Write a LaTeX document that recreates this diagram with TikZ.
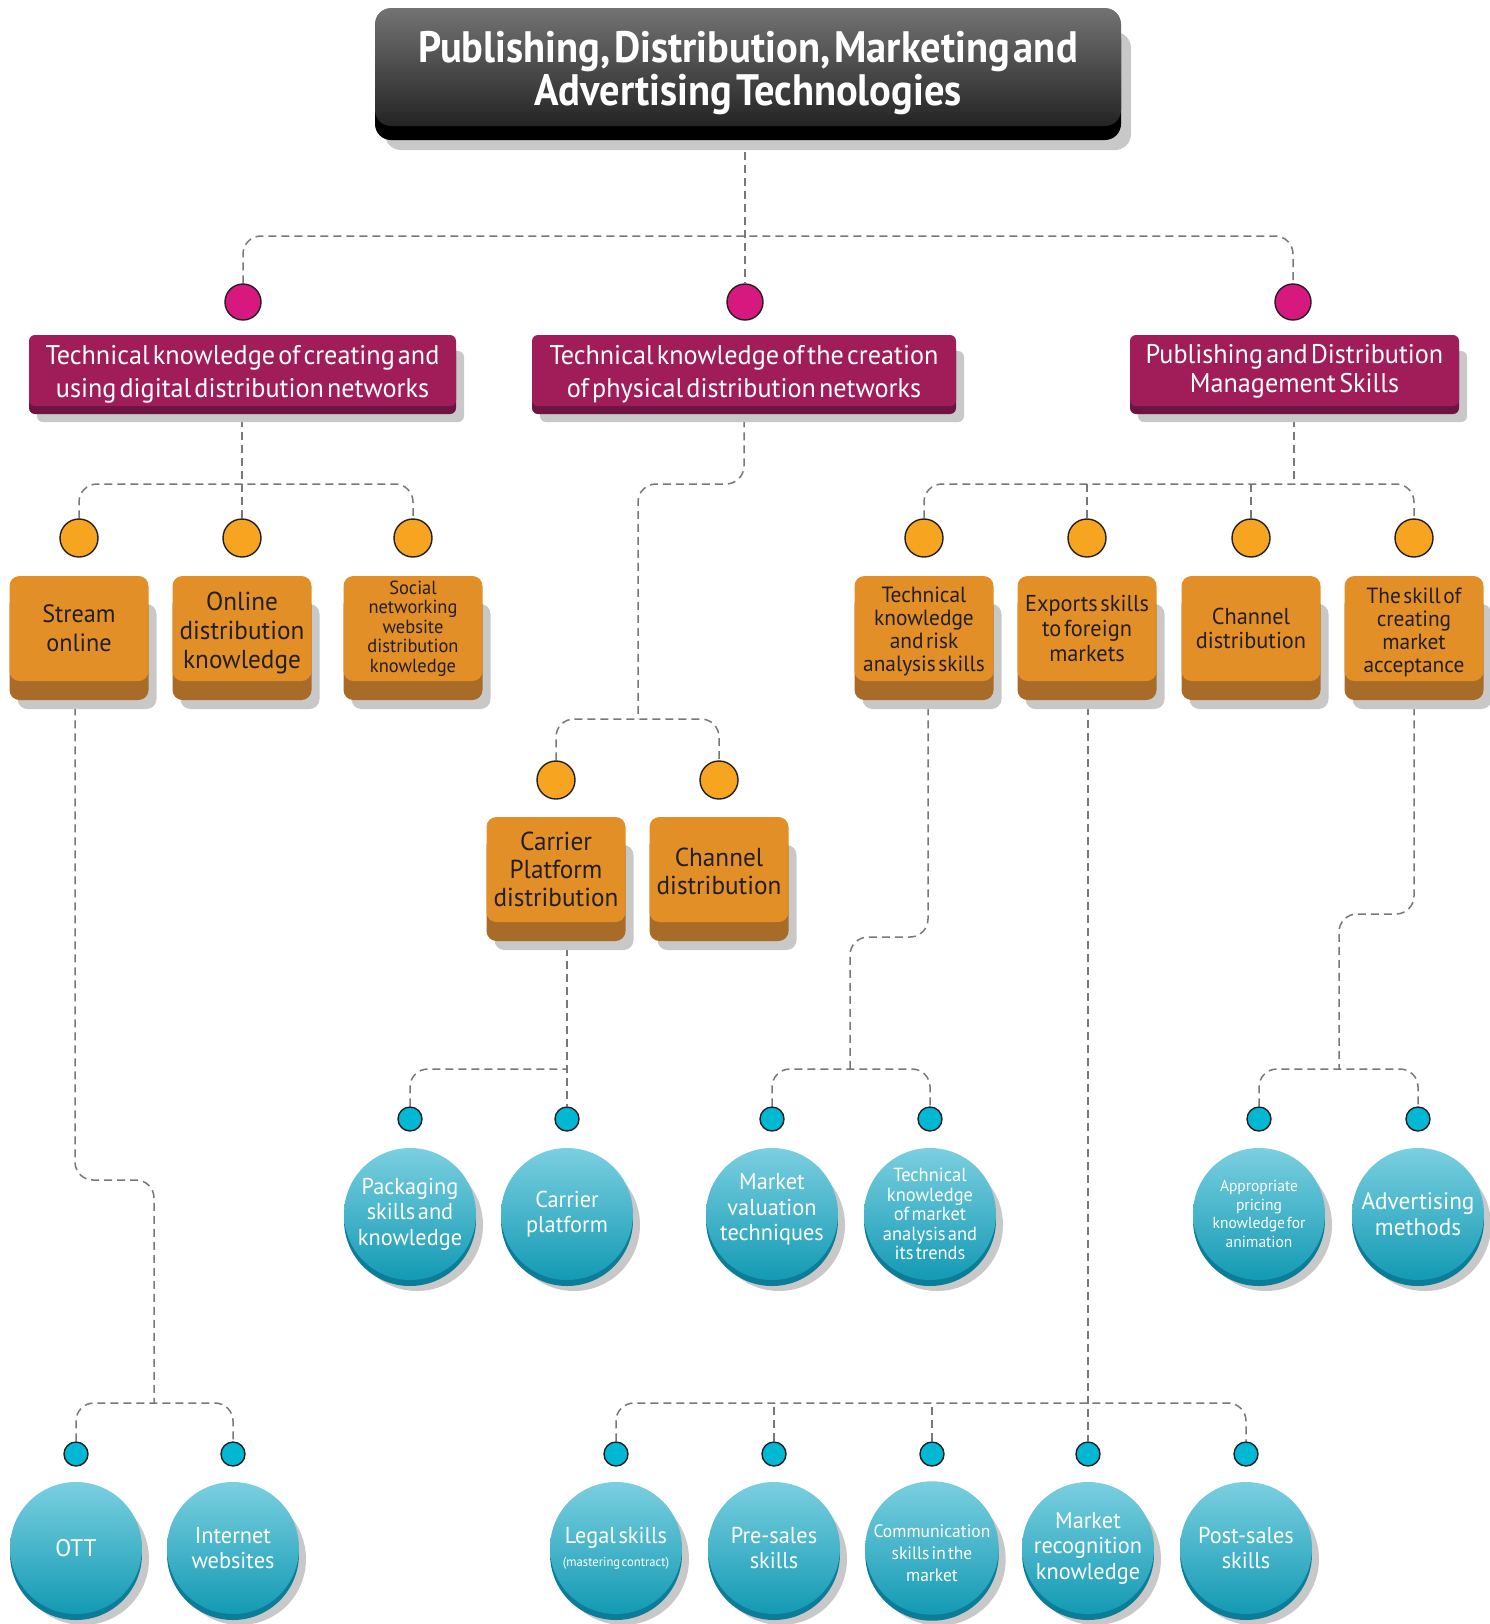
\documentclass[tikz,border=0pt]{standalone}
\usepackage{fontspec}
\setmainfont[FakeStretch=0.97,WordSpace=0.45]{PT Sans}
\newfontfamily\titlefont[FakeStretch=0.92,WordSpace=0.4]{PT Sans}
\usetikzlibrary{shadows,calc,backgrounds}
\definecolor{magface}{HTML}{A01D5A}
\definecolor{maglip}{HTML}{6D1442}
\definecolor{magdot}{HTML}{D7197F}
\definecolor{orface}{HTML}{E38F28}
\definecolor{orlip}{HTML}{A86B28}
\definecolor{ordot}{HTML}{F7A521}
\definecolor{cydot}{HTML}{00B8D4}
\definecolor{cytop}{HTML}{7BCFE0}
\definecolor{cybot}{HTML}{139AB4}
\definecolor{cylip}{HTML}{0B7D98}
\definecolor{shad}{HTML}{C8C8C8}
\definecolor{conncol}{HTML}{77787B}
\definecolor{ink}{HTML}{231F20}
\newcommand\lns[2]{\raisebox{#1}[\height][\depth]{\begin{tabular}{@{}c@{}}#2\end{tabular}}}
\tikzset{
  conn/.style={draw=conncol, line width=0.75pt, dash pattern=on 4pt off 2.5pt, rounded corners=9pt},
  dotbase/.style={circle, draw=ink, line width=0.7pt, inner sep=0pt},
  dotm/.style={dotbase, fill=magdot, minimum size=18pt},
  doto/.style={dotbase, fill=ordot, minimum size=19pt},
  dotc/.style={dotbase, fill=cydot, minimum size=12pt},
  titlebox/.style={rounded corners=8pt, minimum width=373pt, minimum height=59pt,
    top color=black!55, middle color=black!80, bottom color=black!86,
    general shadow={fill=shad, opacity=1, shadow xshift=5pt, shadow yshift=-12pt},
    general shadow={fill=black, opacity=1, shadow yshift=-7pt},
    text=white, align=center, font=\titlefont\bfseries\fontsize{22}{20}\selectfont},
  magbox/.style={rounded corners=3pt, minimum height=35.5pt, fill=magface, inner sep=1pt,
    general shadow={fill=shad, opacity=1, shadow xshift=4pt, shadow yshift=-8pt},
    general shadow={fill=maglip, opacity=1, shadow yshift=-4pt},
    text=white, align=center, font=\fontsize{13.5}{16.5}\selectfont},
  obox/.style={rounded corners=5pt, minimum width=69.5pt, minimum height=52.5pt, fill=orface, inner sep=1pt,
    general shadow={fill=shad, opacity=1, shadow xshift=4pt, shadow yshift=-14pt},
    general shadow={fill=orlip, opacity=1, shadow yshift=-9.5pt},
    text=ink, align=center},
  bigc/.style={circle, minimum size=66pt, inner sep=0pt, top color=cytop, bottom color=cybot,
    general shadow={fill=shad, opacity=1, shadow xshift=3.5pt, shadow yshift=-5.5pt},
    general shadow={fill=cylip, opacity=1, shadow yshift=-3pt},
    text=white, align=center},
  fs/.style 2 args={font=\fontsize{#1}{#2}\selectfont}
}
\begin{document}
\begin{tikzpicture}[x=0.5pt,y=-0.5pt]
\begin{scope}[on background layer]
\fill[white] (0,0) rectangle (1490,1624);
\end{scope}
\useasboundingbox (0,0) rectangle (1490,1624);

% title
\node[titlebox] (T) at (748,67) {\lns{-3.6pt}{Publishing, Distribution, Marketing and\\Advertising Technologies}};

% level 1 dots and boxes
\node[dotm] (mA) at (243,302) {};
\node[dotm] (mB) at (745,302) {};
\node[dotm] (mC) at (1293,302) {};
\node[magbox, minimum width=213.5pt] (A) at (242.5,370.5) {\lns{-2pt}{Technical knowledge of creating and\\using digital distribution networks}};
\node[magbox, minimum width=212pt] (B) at (744,370.5) {\lns{-2pt}{Technical knowledge of the creation\\of physical distribution networks}};
\node[magbox, minimum width=164.5pt, fs={13.5}{14.5}] (C) at (1294.5,370.5) {\lns{-1pt}{Publishing and Distribution\\Management Skills}};

% level 2 dots and boxes
\node[doto] (oA1) at (79,538) {};
\node[doto] (oA2) at (242,538) {};
\node[doto] (oA3) at (413,538) {};
\node[doto] (oC1) at (924,538) {};
\node[doto] (oC2) at (1087,538) {};
\node[doto] (oC3) at (1251,538) {};
\node[doto] (oC4) at (1414,538) {};
\node[obox, fs={12.5}{14.5}] (A1) at (79,628.5) {Stream\\online};
\node[obox, fs={13}{14.5}] (A2) at (242,628.5) {\lns{-2.5pt}{Online\\distribution\\knowledge}};
\node[obox, fs={9.5}{9.8}] (A3) at (413,628.5) {Social\\networking\\website\\distribution\\knowledge};
\node[obox, fs={11}{11.4}] (C1) at (924,628.5) {\lns{-2pt}{Technical\\knowledge\\and risk\\analysis skills}};
\node[obox, fs={11.5}{12.7}] (C2) at (1087,628.5) {Exports skills\\to foreign\\markets};
\node[obox, fs={11.5}{12.4}] (C3) at (1251,628.5) {Channel\\distribution};
\node[obox, fs={11}{11.4}] (C4) at (1414,628.5) {\lns{-2.5pt}{The skill of\\creating\\market\\acceptance}};

\node[doto] (oB1) at (556,780) {};
\node[doto] (oB2) at (719,780) {};
\node[obox, fs={13}{14}] (B1) at (556,869.5) {Carrier\\Platform\\distribution};
\node[obox, fs={13}{14}] (B2) at (719,869.5) {\lns{-2.5pt}{Channel\\distribution}};

% level 3 dots and circles (row A)
\node[dotc] (dB1a) at (410,1119) {};
\node[dotc] (dB1b) at (567,1119) {};
\node[dotc] (dC1a) at (772,1119) {};
\node[dotc] (dC1b) at (930,1119) {};
\node[dotc] (dC4a) at (1259,1119) {};
\node[dotc] (dC4b) at (1418,1119) {};
\node[bigc, fs={11.5}{12.7}] (P) at (410,1214) {Packaging\\skills and\\knowledge};
\node[bigc, fs={11.5}{12.9}] (CP) at (567,1214) {Carrier\\platform};
\node[bigc, fs={11.5}{12.9}] (MV) at (772,1214) {\lns{2pt}{Market\\valuation\\techniques}};
\node[bigc, fs={9.5}{9.8}] (TK) at (930,1214) {Technical\\knowledge\\of market\\analysis and\\its trends};
\node[bigc, fs={8}{9.3}] (AP) at (1259,1214) {Appropriate\\pricing\\knowledge for\\animation};
\node[bigc, fs={12}{12.9}] (AM) at (1418,1214) {Advertising\\methods};

% row B
\node[dotc] (dA1a) at (76,1454) {};
\node[dotc] (dA1b) at (233,1454) {};
\node[dotc] (dC2a) at (616,1454) {};
\node[dotc] (dC2b) at (774,1454) {};
\node[dotc] (dC2c) at (932,1454) {};
\node[dotc] (dC2d) at (1088,1454) {};
\node[dotc] (dC2e) at (1246,1454) {};
\node[bigc, fs={12}{12.9}] (OTT) at (76,1548) {OTT};
\node[bigc, fs={11.5}{12.4}] (IW) at (233,1548) {Internet\\websites};
\node[bigc, fs={11.5}{12.4}] (LS) at (616,1548) {Legal skills\\[-1pt]{\fontsize{6.5}{8}\selectfont (mastering contract)}};
\node[bigc, fs={11.5}{12.4}] (PS) at (774,1548) {Pre-sales\\skills};
\node[bigc, fs={9}{10.9}] (CS) at (932,1548) {\lns{-3.5pt}{Communication\\skills in the\\market}};
\node[bigc, fs={11.5}{12.7}] (MR) at (1088,1548) {Market\\recognition\\knowledge};
\node[bigc, fs={11.5}{12.4}] (PO) at (1246,1548) {Post-sales\\skills};

% junction / bend coordinates
\coordinate (j0) at (745,236);
\coordinate (jA) at (242,484);
\coordinate (bB) at (638,484);
\coordinate (jB) at (638,719);
\coordinate (jC) at (1294,484);
\coordinate (jB1) at (567,1069);
\coordinate (bC1) at (850,937);
\coordinate (jC1) at (850,1069);
\coordinate (bC4) at (1339,914);
\coordinate (jC4) at (1339,1069);
\coordinate (bA1) at (154,1180);
\coordinate (jA1) at (154,1403);
\coordinate (jC2) at (1088,1403);

\begin{scope}[on background layer]
\draw[conn] (T.south -| j0) -- (mB);
\draw[conn] (mA) |- (j0) -| (mC);

\draw[conn] (A.south -| jA) -- (jA);
\draw[conn] (oA1) |- (jA) -| (oA3);
\draw[conn] (jA) -- (oA2);

\draw[conn] (B.south) |- (bB) -- (jB);
\draw[conn] (oB1) |- (jB) -| (oB2);

\draw[conn] (C.south -| jC) -- (jC);
\draw[conn] (oC1) |- (jC) -| (oC4);
\draw[conn] (oC2) -- (oC2 |- jC);
\draw[conn] (oC3) -- (oC3 |- jC);

\draw[conn] (B1.south -| dB1b) -- (dB1b);
\draw[conn] (dB1a) |- (jB1);

\draw[conn] ([xshift=2pt]C1.south) |- (bC1) -- (jC1);
\draw[conn] (dC1a) |- (jC1) -| (dC1b);

\draw[conn] (C4.south) |- (bC4) -- (jC4);
\draw[conn] (dC4a) |- (jC4) -| (dC4b);

\draw[conn] ([xshift=-2pt]A1.south) |- (bA1) -- (jA1);
\draw[conn] (dA1a) |- (jA1) -| (dA1b);

\draw[conn] (C2.south -| jC2) -- (dC2d);
\draw[conn] (dC2a) |- (jC2) -| (dC2e);
\draw[conn] (dC2b) -- (dC2b |- jC2);
\draw[conn] (dC2c) -- (dC2c |- jC2);
\end{scope}
\end{tikzpicture}
\end{document}
